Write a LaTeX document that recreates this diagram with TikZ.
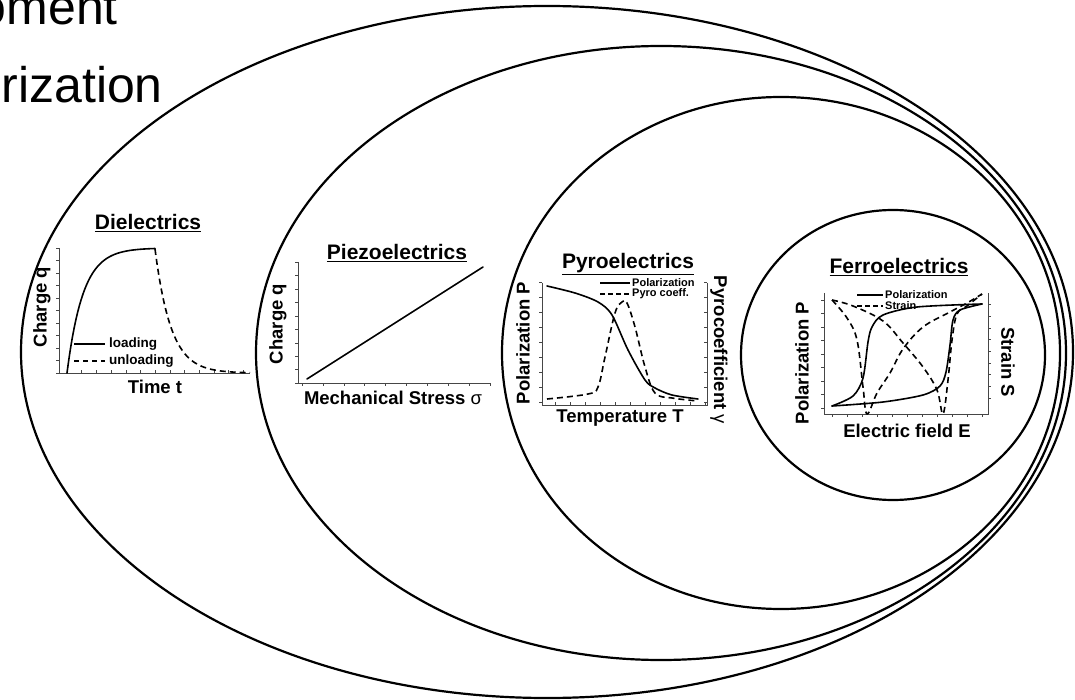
\documentclass[tikz,border=0pt]{standalone}
\usepackage{fontspec}
\setmainfont{Liberation Sans}
\tikzset{
  ring/.style={line width=2.2pt},
  curve/.style={line width=1.6pt, line join=round, line cap=round},
  dashcurve/.style={curve, line cap=butt, dash pattern=on 6pt off 4pt},
  axis/.style={gray!55!black, line width=0.9pt},
  tick/.style={gray!55!black, line width=0.6pt},
  title/.style={font=\bfseries\fontsize{21}{24}\selectfont, inner sep=0pt},
  lbl/.style={font=\bfseries\fontsize{18.5}{20}\selectfont, inner sep=0pt},
  legend/.style={font=\bfseries\fontsize{11}{11}\selectfont, anchor=west, inner sep=0pt},
  big/.style={font=\fontsize{50}{56}\selectfont, inner sep=0pt, anchor=base east}
}
\begin{document}
\begin{tikzpicture}[x=1pt,y=-1pt]
\useasboundingbox (0,0) rectangle (1075,700);

% Cut-off text, top left
\node[big] (moment) at (118,25) {oment};
\node[big] (polar) at (163,103) {rization};

% Nested classes
\draw[ring] (547,352) ellipse [x radius=526pt, y radius=346pt];
\draw[ring] (661,353) ellipse [x radius=405pt, y radius=307pt];
\draw[ring] (781,353) ellipse [x radius=279pt, y radius=256pt];
\draw[ring] (893,355) ellipse [x radius=152pt, y radius=145pt];

% Dielectrics
\node[title] (dieltitle) at (148,223) {\underline{Dielectrics}};
\draw[axis] (59,248) -- (59,373) -- (250,373);
\foreach \i in {0,1,...,10}{
  \draw[tick] (59,373-\i*12.5) -- (56,373-\i*12.5);
}
\foreach \i in {0,1,...,12}{
  \draw[tick] (67+\i*14.7,373) -- (67+\i*14.7,370);
}
\draw[curve] plot[domain=67:155, samples=50] (\x,{373-125*(1-exp(-(\x-67)/16))});
\draw[dashcurve] plot[domain=155:250, samples=50] (\x,{249+124*(1-exp(-(\x-155)/16))});
\draw[curve, line cap=butt] (74,344) -- (105,344);
\draw[dashcurve, dash pattern=on 5pt off 4pt] (74,361) -- (105,361);
\node[legend, font=\bfseries\fontsize{13.5}{14}\selectfont] (loading) at (109,344) {loading};
\node[legend, font=\bfseries\fontsize{13.5}{14}\selectfont] (unloading) at (109,361) {unloading};
\node[lbl, rotate=90] (dielq) at (42,307) {Charge q};
\node[lbl] (dielt) at (155,387) {Time t};

% Piezoelectrics
\node[title] (piezotitle) at (397,253) {\underline{Piezoelectrics}};
\draw[axis] (298,262) -- (298,383) -- (490,383);
\foreach \i in {0,1,...,9}{
  \draw[tick] (298,383-\i*13.4) -- (295,383-\i*13.4);
}
\foreach \i in {0,1,...,9}{
  \draw[tick] (302+\i*20.9,383) -- (302+\i*20.9,386);
}
\draw[curve] (307,379) -- (483,267);
\node[lbl, rotate=90] (piezoq) at (278,324) {Charge q};
\node[lbl] (piezos) at (393,398) {Mechanical Stress {\mdseries σ}};

% Pyroelectrics
\node[title] (pyrotitle) at (628,264) {\underline{Pyroelectrics}};
\draw[axis] (542,283) -- (542,405) -- (707,405) -- (707,283);
\foreach \i in {0,1,...,8}{
  \draw[tick] (542,402-\i*15) -- (539,402-\i*15);
  \draw[tick] (707,402-\i*15) -- (704,402-\i*15);
}
\foreach \i in {0,1,...,10}{
  \draw[tick] (555+\i*15,405) -- (555+\i*15,402);
}
\draw[curve] plot[smooth] coordinates {(547,286) (575,293) (598,302) (612,315)
  (628,350) (645,380) (655,388) (672,395) (698,399)};
\draw[dashcurve] plot[smooth, tension=0.6] coordinates {(547,399) (588,394) (598,387)
  (605,357) (615,313) (622,302) (627,303) (635,327) (645,367) (655,393) (672,398) (698,401)};
\draw[curve, line width=1.2pt, line cap=butt] (600,283) -- (630,283);
\draw[dashcurve, line width=1.2pt, dash pattern=on 5pt off 3pt] (600,294) -- (630,294);
\node[legend] (pyroleg1) at (632,283) {Polarization};
\node[legend] (pyroleg2) at (632,294) {Pyro coeff.};
\node[lbl, rotate=90] (pyrop) at (523,343) {Polarization P};
\node[lbl, rotate=-90] (pyrog) at (719,350) {Pyrocoefficient {\mdseries γ}};
\node[lbl] (pyrot) at (620,418) {Temperature T};

% Ferroelectrics
\node[title] (ferrotitle) at (899,267) {\underline{Ferroelectrics}};
\draw[axis] (824,293) -- (824,414) -- (988,414) -- (988,293);
\foreach \i in {0,1,...,8}{
  \draw[tick] (824,408-\i*13.5) -- (821,408-\i*13.5);
  \draw[tick] (988,398-\i*11.7) -- (991,398-\i*11.7);
}
\foreach \i in {0,1,...,10}{
  \draw[tick] (832+\i*15,414) -- (832+\i*15,417);
}
% hysteresis loop
\draw[curve] plot[smooth] coordinates {(832,406) (883,402) (923,395) (940,386)
  (946,372) (950,345) (953,320) (960,310) (982,304)};
\draw[curve] plot[smooth] coordinates {(982,304) (917,307) (883,315) (872,327)
  (868,342) (863,378) (853,396) (832,406)};
% butterfly loop
\draw[dashcurve] plot[smooth, tension=0.6] coordinates {(832,300) (847,318) (857,340)
  (863,387) (867,414) (877,393) (890,373) (903,349) (923,327) (950,312) (967,303) (982,294)};
\draw[dashcurve] plot[smooth, tension=0.6] coordinates {(832,300) (853,306) (883,321)
  (903,343) (923,367) (937,390) (943,414) (948,380) (952,340) (957,314) (967,306) (982,294)};
\draw[curve, line width=1.2pt, line cap=butt] (857,295) -- (883,295);
\draw[dashcurve, line width=1.2pt, dash pattern=on 5pt off 3pt] (857,306) -- (883,306);
\node[legend] (ferroleg1) at (885,295) {Polarization};
\node[legend] (ferroleg2) at (885,306) {Strain};
\node[lbl, rotate=90] (ferrop) at (802,363) {Polarization P};
\node[lbl, rotate=-90] (ferros) at (1008,362) {Strain S};
\node[lbl] (ferroe) at (907,431) {Electric field E};
\end{tikzpicture}
\end{document}
